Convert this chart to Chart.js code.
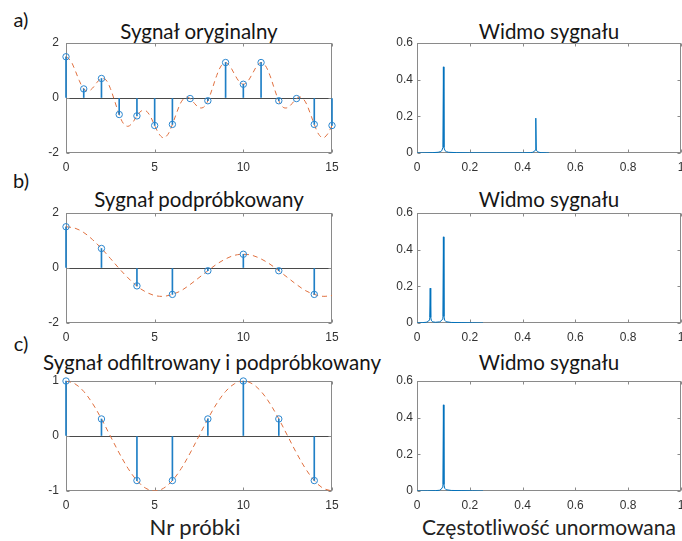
<!DOCTYPE html>
<html>
<head>
<meta charset="utf-8">
<script src="https://cdn.jsdelivr.net/npm/chart.js@4.4.1/dist/chart.umd.min.js"></script>
<style>
  html, body { margin: 0; padding: 0; background: #fff; width: 682px; height: 541px; overflow: hidden; }
  canvas { position: absolute; }
  .txt { position: absolute; font-family: Lato, "Open Sans", sans-serif; color: #151515; white-space: nowrap; transform: translate(-50%, -50%); }
  .title { font-size: 20.5px; }
  .tag { font-size: 20px; }
  .axlab { font-size: 21px; color: #222; }
</style>
</head>
<body>

<div class="txt tag" style="left:21px;top:19px">a)</div>
<div class="txt tag" style="left:21px;top:180px">b)</div>
<div class="txt tag" style="left:21px;top:343px">c)</div>

<div class="txt title" style="left:199px;top:31px">Sygnał oryginalny</div>
<div class="txt title" style="left:549px;top:31px">Widmo sygnału</div>
<div class="txt title" style="left:199px;top:199px">Sygnał podpróbkowany</div>
<div class="txt title" style="left:549px;top:199px">Widmo sygnału</div>
<div class="txt title" style="left:212px;top:362px">Sygnał odfiltrowany i podpróbkowany</div>
<div class="txt title" style="left:549px;top:362px">Widmo sygnału</div>

<div class="txt axlab" style="left:195px;top:526px;font-size:22px">Nr próbki</div>
<div class="txt axlab" style="left:549px;top:526px">Częstotliwość unormowana</div>

<canvas id="sigA" width="320" height="142" style="left:26px;top:35px"></canvas>
<canvas id="specA" width="318" height="142" style="left:377px;top:35px"></canvas>
<canvas id="sigB" width="320" height="142" style="left:26px;top:205px"></canvas>
<canvas id="specB" width="318" height="142" style="left:377px;top:205px"></canvas>
<canvas id="sigC" width="320" height="142" style="left:26px;top:373px"></canvas>
<canvas id="specC" width="318" height="142" style="left:377px;top:373px"></canvas>

<script>
// --- a) original signal ---
const nA = [0, 1, 2, 3, 4, 5, 6, 7, 8, 9, 10, 11, 12, 13, 14, 15];
const samplesA = [1.5, 0.33, 0.71, -0.6, -0.65, -1.0, -0.96, -0.02, -0.1, 1.29, 0.5, 1.29, -0.1, -0.02, -0.96, -1.0];
const tA = [0, 0.25, 0.5, 0.75, 1, 1.25, 1.5, 1.75, 2, 2.25, 2.5, 2.75, 3, 3.25, 3.5, 3.75, 4, 4.25, 4.5, 4.75,
  5, 5.25, 5.5, 5.75, 6, 6.25, 6.5, 6.75, 7, 7.25, 7.5, 7.75, 8, 8.25, 8.5, 8.75, 9, 9.25, 9.5, 9.75,
  10, 10.25, 10.5, 10.75, 11, 11.25, 11.5, 11.75, 12, 12.25, 12.5, 12.75, 13, 13.25, 13.5, 13.75, 14, 14.25, 14.5, 14.75, 15];
const curveA = [1.5, 1.37, 1.03, 0.63, 0.33, 0.25, 0.36, 0.57, 0.71, 0.66, 0.35, -0.12, -0.6, -0.94, -1.03, -0.9, -0.65, -0.47, -0.46, -0.66,
  -1.0, -1.31, -1.45, -1.32, -0.96, -0.52, -0.14, 0.03, -0.02, -0.2, -0.35, -0.34, -0.1, 0.34, 0.82, 1.17, 1.29, 1.15, 0.87, 0.61,
  0.5, 0.61, 0.87, 1.15, 1.29, 1.17, 0.82, 0.34, -0.1, -0.34, -0.35, -0.2, -0.02, 0.03, -0.14, -0.52, -0.96, -1.32, -1.45, -1.31, -1.0];
const freqA = [0, 0.03, 0.06, 0.08, 0.088, 0.094, 0.098, 0.1, 0.102, 0.106, 0.112, 0.12, 0.15, 0.2, 0.3, 0.4, 0.43, 0.438, 0.444, 0.448, 0.45, 0.452, 0.456, 0.462, 0.47, 0.49, 0.5];
const magA = [0, 0.001, 0.002, 0.004, 0.007, 0.013, 0.03, 0.47, 0.03, 0.013, 0.007, 0.004, 0.002, 0.001, 0.001, 0.001, 0.002, 0.004, 0.008, 0.016, 0.19, 0.016, 0.008, 0.004, 0.002, 0.001, 0];

// --- b) subsampled ---
const nB = [0, 2, 4, 6, 8, 10, 12, 14];
const samplesB = [1.5, 0.71, -0.65, -0.96, -0.1, 0.5, -0.1, -0.96];
const tHalf = [0, 0.5, 1, 1.5, 2, 2.5, 3, 3.5, 4, 4.5, 5, 5.5, 6, 6.5, 7, 7.5, 8, 8.5, 9, 9.5, 10, 10.5, 11, 11.5, 12, 12.5, 13, 13.5, 14, 14.5, 15];
const curveB = [1.5, 1.45, 1.29, 1.03, 0.71, 0.35, -0.02, -0.36, -0.66, -0.87, -1.0, -1.03, -0.96, -0.82, -0.6, -0.35,
  -0.1, 0.14, 0.33, 0.46, 0.5, 0.46, 0.33, 0.14, -0.1, -0.35, -0.6, -0.82, -0.96, -1.03, -1.0];
const freqB = [0, 0.02, 0.035, 0.042, 0.046, 0.048, 0.05, 0.052, 0.055, 0.06, 0.07, 0.085, 0.092, 0.096, 0.098, 0.1, 0.102, 0.105, 0.11, 0.13, 0.17, 0.21, 0.25];
const magB = [0, 0.002, 0.004, 0.008, 0.016, 0.03, 0.19, 0.03, 0.012, 0.006, 0.004, 0.006, 0.012, 0.02, 0.035, 0.47, 0.035, 0.015, 0.007, 0.003, 0.002, 0.001, 0];

// --- c) filtered + subsampled ---
const nC = [0, 2, 4, 6, 8, 10, 12, 14];
const samplesC = [1, 0.31, -0.81, -0.81, 0.31, 1, 0.31, -0.81];
const curveC = [1, 0.95, 0.81, 0.59, 0.31, 0, -0.31, -0.59, -0.81, -0.95, -1, -0.95, -0.81, -0.59, -0.31,
  0, 0.31, 0.59, 0.81, 0.95, 1, 0.95, 0.81, 0.59, 0.31, 0, -0.31, -0.59, -0.81, -0.95, -1];
const freqC = [0, 0.04, 0.07, 0.085, 0.092, 0.096, 0.098, 0.1, 0.102, 0.105, 0.11, 0.13, 0.17, 0.21, 0.25];
const magC = [0, 0.001, 0.002, 0.004, 0.01, 0.02, 0.035, 0.47, 0.035, 0.015, 0.007, 0.003, 0.002, 0.001, 0];

const BLUE = "#0072BD";
const ORANGE = "#e0703f";
const tickFont = { family: "'Liberation Sans', Arial, sans-serif", size: 12 };

// MATLAB-like box with inward tick marks
const boxAxes = {
    id: "boxAxes",
    beforeDatasetsDraw(chart) {
        const { ctx, chartArea: a, scales } = chart;
        const L = Math.round(a.left) + 0.5, R = Math.round(a.right) - 0.5;
        const T = Math.round(a.top) + 0.5, B = Math.round(a.bottom) - 0.5;
        ctx.save();
        ctx.strokeStyle = "#8a8a8a";
        ctx.lineWidth = 1;
        ctx.strokeRect(L, T, R - L, B - T);
        ctx.beginPath();
        scales.x.ticks.forEach(t => {
            const px = Math.round(scales.x.getPixelForValue(t.value)) + 0.5;
            ctx.moveTo(px, B); ctx.lineTo(px, B - 3);
            ctx.moveTo(px, T); ctx.lineTo(px, T + 3);
        });
        scales.y.ticks.forEach(t => {
            const py = Math.round(scales.y.getPixelForValue(t.value)) + 0.5;
            ctx.moveTo(L, py); ctx.lineTo(L + 3, py);
            ctx.moveTo(R, py); ctx.lineTo(R - 3, py);
        });
        ctx.stroke();
        ctx.restore();
    }
};

function fmt(v) { return String(Math.round(v * 10) / 10); }

function axes(xMin, xMax, xStep, yMin, yMax, yStep, zeroLine) {
    return {
        x: {
            type: "linear", min: xMin, max: xMax, offset: false,
            ticks: { stepSize: xStep, padding: 7, color: "#333", font: tickFont, callback: fmt, maxRotation: 0 },
            grid: { display: false, drawTicks: false, offset: false },
            border: { display: false },
            afterFit: s => { s.height = 24; s.paddingLeft = 0; s.paddingRight = 0; }
        },
        y: {
            type: "linear", min: yMin, max: yMax,
            ticks: { stepSize: yStep, padding: zeroLine ? 7 : 4, color: "#333", font: tickFont, callback: fmt },
            grid: {
                display: zeroLine, drawTicks: false,
                color: c => (c.tick && c.tick.value === 0) ? "#4a4a4a" : "rgba(0,0,0,0)"
            },
            border: { display: false },
            afterFit: s => { s.width = 40; s.paddingTop = 0; s.paddingBottom = 0; }
        }
    };
}

const baseOptions = {
    responsive: false,
    animation: false,
    devicePixelRatio: 1,
    layout: { padding: { left: 0, top: 8, right: 14, bottom: 0 } },
    plugins: { legend: { display: false }, tooltip: { enabled: false }, title: { display: false } }
};

function stemChart(id, n, samples, t, curve, yMin, yMax, yStep) {
    new Chart(document.getElementById(id), {
        type: "scatter",
        data: {
            datasets: [
                {
                    type: "line",
                    data: t.map((v, i) => ({ x: v, y: curve[i] })),
                    borderColor: ORANGE,
                    borderWidth: 1,
                    borderDash: [5, 4],
                    pointRadius: 0,
                    tension: 0.35,
                    fill: false,
                    order: 3
                },
                {
                    type: "bar",
                    data: n.map((v, i) => ({ x: v, y: samples[i] })),
                    backgroundColor: "#1f7fc6",
                    barThickness: 1,
                    grouped: false,
                    clip: false,
                    order: 2
                },
                {
                    type: "scatter",
                    data: n.map((v, i) => ({ x: v, y: samples[i] })),
                    pointStyle: "circle",
                    pointRadius: 3.2,
                    borderColor: "#2a86cf",
                    borderWidth: 1,
                    backgroundColor: "rgba(0,0,0,0)",
                    clip: false,
                    order: 1
                }
            ]
        },
        options: Object.assign({}, baseOptions, { scales: axes(0, 15, 5, yMin, yMax, yStep, true) }),
        plugins: [boxAxes]
    });
}

function specChart(id, freq, mag) {
    new Chart(document.getElementById(id), {
        type: "line",
        data: {
            datasets: [{
                data: freq.map((v, i) => ({ x: v, y: mag[i] })),
                borderColor: BLUE,
                borderWidth: 1,
                pointRadius: 0,
                tension: 0,
                fill: false
            }]
        },
        options: Object.assign({}, baseOptions, { scales: axes(0, 1, 0.2, 0, 0.6, 0.2, false) }),
        plugins: [boxAxes]
    });
}

stemChart("sigA", nA, samplesA, tA, curveA, -2, 2, 2);
specChart("specA", freqA, magA);
stemChart("sigB", nB, samplesB, tHalf, curveB, -2, 2, 2);
specChart("specB", freqB, magB);
stemChart("sigC", nC, samplesC, tHalf, curveC, -1, 1, 1);
specChart("specC", freqC, magC);
</script>
</body>
</html>
